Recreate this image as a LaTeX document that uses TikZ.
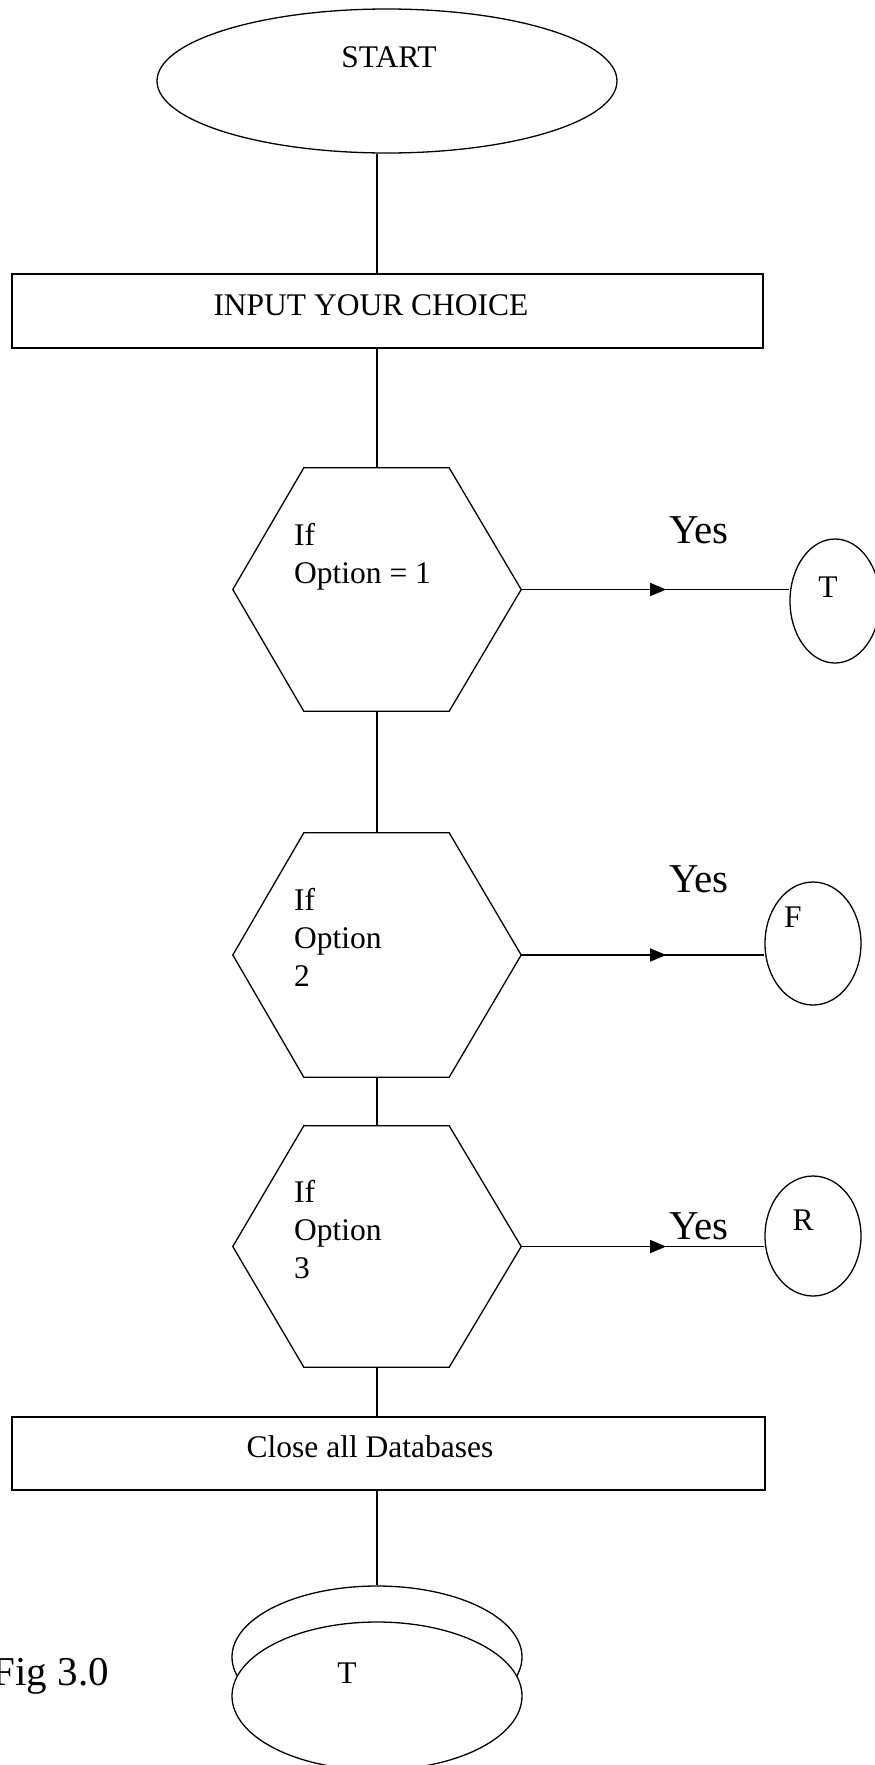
\documentclass[tikz,border=0pt]{standalone}
\usepackage{fontspec}
\setmainfont{Liberation Serif}
\usetikzlibrary{shapes.geometric,arrows.meta,decorations.markings}
\newcommand\drawhexagon[1]{%
  \draw[ln] (#1.west) -- ([xshift=71pt]#1.north west) -- ([xshift=-72pt]#1.north east)
    -- (#1.east) -- ([xshift=-72pt]#1.south east) -- ([xshift=71pt]#1.south west) -- cycle;}
\begin{document}
\begin{tikzpicture}[x=1pt,y=-1pt,
  ln/.style={line width=1.3pt},
  sm/.style={font=\fontsize{31.5}{38}\selectfont, inner sep=0pt},
  lg/.style={font=\fontsize{41}{48}\selectfont, inner sep=0pt},
  procbox/.style={draw, ln, rectangle, inner sep=0pt},
  oval/.style={draw, ln, ellipse, inner sep=0pt},
  hexbox/.style={rectangle, inner sep=0pt, minimum width=288pt, minimum height=#1},
  midarrow/.style={ln, postaction={decorate}, decoration={markings,
     mark=at position 145pt with {\arrow{Triangle[length=16pt,width=13pt]}}}}
]
\fill[white] (0,0) rectangle (875,1765);
\useasboundingbox (0,0) rectangle (875,1765);

% start
\node[oval, minimum width=460pt, minimum height=144pt] (start) at (387,81) {};
\node[sm, anchor=base] (startT) at (389,67) {START};

% input
\node[procbox, minimum width=751pt, minimum height=74pt] (in1) at (387.5,311) {};
\node[sm, anchor=base] (in1T) at (371,315) {INPUT YOUR CHOICE};

% decisions
\node[hexbox=243pt] (h1) at (377,589.5) {};
\drawhexagon{h1}
\node[sm, anchor=north west, align=left] (h1T) at (294,523.5) {If\\Option = 1};

\node[hexbox=244pt] (h2) at (377,955) {};
\drawhexagon{h2}
\node[sm, anchor=north west, align=left] (h2T) at (294,888.5) {If\\Option\\2};

\node[hexbox=241pt] (h3) at (377,1246.5) {};
\drawhexagon{h3}
\node[sm, anchor=north west, align=left] (h3T) at (294,1180.5) {If\\Option\\3};

% connectors
\node[oval, minimum width=90pt, minimum height=124pt] (t1) at (835,601) {};
\node[sm, anchor=base] (t1T) at (828,597) {T};
\node[oval, minimum width=96pt, minimum height=123pt] (f1) at (813,943.5) {};
\node[sm, anchor=base] (f1T) at (793,927) {F};
\node[oval, minimum width=96pt, minimum height=120pt] (r1) at (813,1236) {};
\node[sm, anchor=base] (r1T) at (803,1230) {R};

\node[lg, anchor=base west] (y1) at (669,543) {Yes};
\node[lg, anchor=base west] (y2) at (669,892) {Yes};
\node[lg, anchor=base west] (y3) at (669,1239) {Yes};

\draw[midarrow] (h1.east) -- (h1.east -| t1.west);
\draw[midarrow] (h2.east) -- (h2.east -| f1.west);
\draw[midarrow] (h3.east) -- (h3.east -| r1.west);

% close
\node[procbox, minimum width=753pt, minimum height=73pt] (cl) at (388.5,1453.5) {};
\node[sm, anchor=base] (clT) at (370,1457) {Close all Databases};

% end
\node[oval, minimum width=290pt, minimum height=142pt] (eb) at (377,1657) {};
\node[oval, fill=white, minimum width=290pt, minimum height=148pt] (ef) at (377,1696) {};
\node[sm, anchor=base] (efT) at (347,1683) {T};
\node[lg, anchor=base east] (fig) at (109,1685) {Fig 3.0};

% vertical flow
\draw[ln] (start.south -| h1.north) -- (in1.north -| h1.north);
\draw[ln] (in1.south -| h1.north) -- (h1.north);
\draw[ln] (h1.south) -- (h2.north);
\draw[ln] (h2.south) -- (h3.north);
\draw[ln] (h3.south) -- (cl.north -| h3.south);
\draw[ln] (cl.south -| eb.north) -- (eb.north);
\end{tikzpicture}
\end{document}
